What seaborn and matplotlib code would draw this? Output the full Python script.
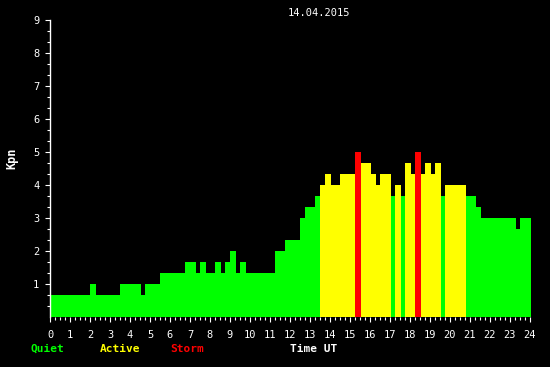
import numpy as np
import pandas as pd
import matplotlib
matplotlib.use("Agg")
import matplotlib.pyplot as plt
import seaborn as sns
from matplotlib.ticker import MultipleLocator, FixedLocator

# ---- data ----
edges = [0, 2.0, 2.3, 3.5, 4.55, 4.75, 5.5, 6.75, 7.3, 7.5, 7.8, 8.25, 8.55,
         8.75, 9.0, 9.3, 9.5, 9.8, 11.25, 11.75, 12.5, 12.75, 13.25, 13.5,
         13.75, 14.05, 14.5, 15.25, 15.55, 16.05, 16.3, 16.5, 17.05, 17.25,
         17.55, 17.75, 18.05, 18.25, 18.55, 18.75, 19.05, 19.25, 19.55, 19.75,
         20.8, 21.3, 21.55, 23.3, 23.5, 24.05]
kp = [0.67, 1.0, 0.67, 1.0, 0.67, 1.0, 1.33, 1.67, 1.33, 1.67, 1.33, 1.67,
      1.33, 1.67, 2.0, 1.33, 1.67, 1.33, 2.0, 2.33, 3.0, 3.33, 3.67, 4.0,
      4.33, 4.0, 4.33, 5.0, 4.67, 4.33, 4.0, 4.33, 3.67, 4.0, 3.67, 4.67,
      4.33, 5.0, 4.33, 4.67, 4.33, 4.67, 3.67, 4.0, 3.67, 3.33, 3.0, 2.67,
      3.0]
levels = ["Quiet", "Active", "Storm"]
level_colors = ["#00ff00", "#ffff00", "#ff0000"]
x_ticks = list(range(0, 25))
y_ticks = list(range(1, 10))
title = "14.04.2015"

edges_a = np.array(edges)
mids = (edges_a[:-1] + edges_a[1:]) / 2
kp_a = np.array(kp)
lvl = np.where(kp_a >= 5, "Storm", np.where(kp_a >= 4, "Active", "Quiet"))
df = pd.DataFrame({"t": mids, "kp": kp_a, "level": lvl})

sns.set_theme(style="dark", rc={
    "figure.facecolor": "black", "axes.facecolor": "black",
    "axes.edgecolor": "white", "text.color": "white",
    "xtick.color": "white", "ytick.color": "white",
    "axes.grid": False,
})
plt.rcParams["font.family"] = ["DejaVu Sans Mono", "DejaVu Sans"]

W, H = 550, 367
fig = plt.figure(figsize=(5.5, 3.67), dpi=100)
ax = fig.add_axes([50 / W, 1 - 317 / H, 481 / W, 297 / H])

sns.histplot(data=df, x="t", weights="kp", bins=edges, hue="level",
             hue_order=levels, palette=dict(zip(levels, level_colors)),
             multiple="layer", stat="count", element="bars", alpha=1,
             linewidth=0, legend=False, antialiased=False, ax=ax)

ax.set_xlim(0, 24.05)
ax.set_ylim(0, 9)
ax.set_xlabel("")
ax.set_ylabel("")
for s in ["top", "right", "bottom"]:
    ax.spines[s].set_visible(False)
ax.spines["left"].set_color("white")
ax.spines["left"].set_linewidth(1)

ax.xaxis.set_major_locator(FixedLocator(x_ticks))
ax.set_xticklabels([str(v) for v in x_ticks], fontsize=7.5)
ax.xaxis.set_minor_locator(MultipleLocator(0.25))
ax.yaxis.set_major_locator(FixedLocator(y_ticks))
ax.set_yticklabels([str(v) for v in y_ticks], fontsize=7.5)
ax.yaxis.set_minor_locator(FixedLocator([i / 3 for i in range(1, 27)]))
ax.tick_params(axis="x", which="major", length=3.5, width=0.8, pad=6,
               bottom=True, direction="out")
ax.tick_params(axis="x", which="minor", length=2.2, width=0.8, bottom=True)
ax.tick_params(axis="y", which="major", length=3.6, width=0.8, pad=4,
               left=True)
ax.tick_params(axis="y", which="minor", length=2.2, width=0.8, left=True)

def ftxt(x, y, s, **kw):
    fig.text(x / W, 1 - y / H, s, ha="center", va="center", **kw)

ftxt(319, 13, title, fontsize=7.5, color="white")
ftxt(12, 158, "Kpn", fontsize=8.5, color="white", fontweight="bold",
     rotation=90)
ftxt(47, 349, "Quiet", fontsize=8, color=level_colors[0], fontweight="bold")
ftxt(120, 349, "Active", fontsize=8, color=level_colors[1], fontweight="bold")
ftxt(187, 349, "Storm", fontsize=8, color=level_colors[2], fontweight="bold")
ftxt(314, 349, "Time UT", fontsize=8, color="white", fontweight="bold")

fig.savefig("out.png", dpi=100, facecolor="black")
